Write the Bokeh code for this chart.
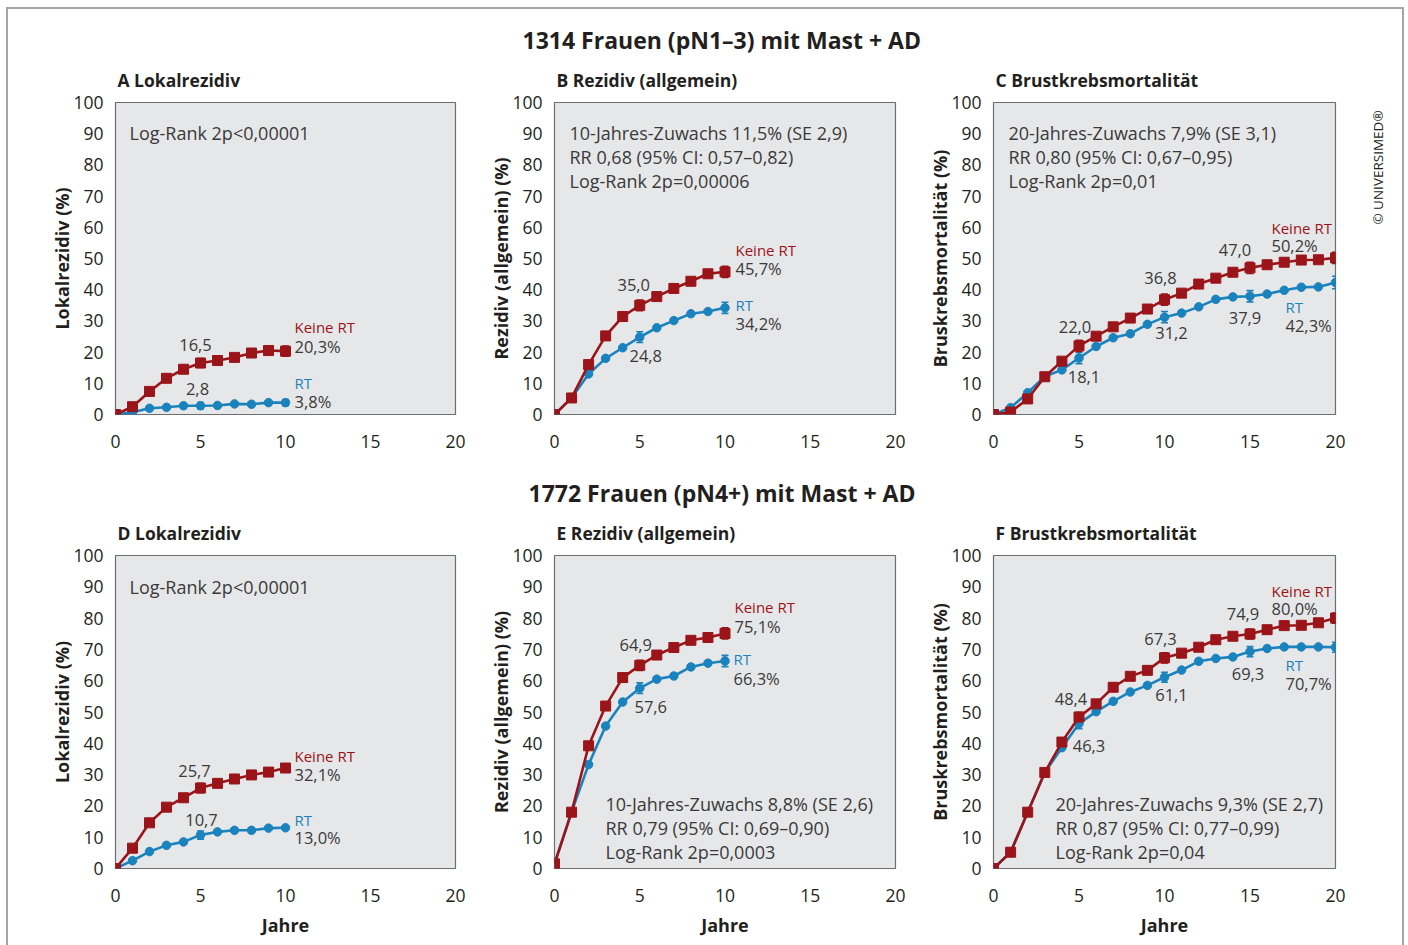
from bokeh.plotting import figure
from bokeh.layouts import row, column
from bokeh.models import (Range1d, FixedTicker, Label, Whisker, ColumnDataSource, TeeHead, Title)
from bokeh.embed import file_html
from bokeh.resources import INLINE
import math

FONT = "Open Sans"
RED = "#9b1419"
BLUE = "#1a82bd"
TXT = "#3a3a3a"
TICK = "#231f20"

# ---------------- data ----------------
years_10 = list(range(0, 11))
years_20 = list(range(0, 21))
x_ticks = [0, 5, 10, 15, 20]
y_ticks = [0, 10, 20, 30, 40, 50, 60, 70, 80, 90, 100]

# A Lokalrezidiv (pN1-3)
a_keine = [0, 2.5, 7.4, 11.6, 14.5, 16.5, 17.3, 18.3, 19.7, 20.5, 20.3]
a_rt = [0, 0.7, 2.0, 2.3, 2.8, 2.8, 2.9, 3.4, 3.3, 3.8, 3.8]
a_err_years = [5, 10]
a_keine_se = [1.4, 1.6]
a_rt_se = [1.0, 1.0]

# B Rezidiv allgemein (pN1-3)
b_keine = [0, 5.3, 16.0, 25.2, 31.4, 35.0, 37.8, 40.4, 42.7, 45.1, 45.7]
b_rt = [0, 5.3, 13.0, 18.0, 21.4, 24.8, 27.8, 30.1, 32.3, 33.0, 34.2]
b_err_years = [5, 10]
b_keine_se = [1.7, 1.8]
b_rt_se = [1.7, 1.8]

# C Brustkrebsmortalitaet (pN1-3)
c_keine = [0, 0.8, 5.0, 12.1, 17.1, 22.0, 25.1, 28.1, 30.9, 33.8, 36.8,
           38.9, 41.8, 43.7, 45.6, 47.0, 48.0, 48.8, 49.5, 49.6, 50.2]
c_rt = [0, 2.2, 7.0, 12.2, 14.3, 18.1, 21.8, 24.6, 25.9, 28.9, 31.2,
        32.5, 34.5, 36.9, 37.7, 37.9, 38.6, 39.8, 40.8, 40.9, 42.3]
c_err_years = [5, 10, 15, 20]
c_keine_se = [1.8, 1.8, 1.8, 1.8]
c_rt_se = [1.8, 1.8, 1.8, 2.0]

# D Lokalrezidiv (pN4+)
d_keine = [0, 6.5, 14.6, 19.6, 22.6, 25.7, 27.2, 28.6, 29.9, 30.8, 32.1]
d_rt = [0, 2.5, 5.4, 7.4, 8.5, 10.7, 11.7, 12.2, 12.2, 12.9, 13.0]
d_err_years = [5]
d_keine_se = [1.5]
d_rt_se = [1.3]

# E Rezidiv allgemein (pN4+)
e_keine = [1.5, 18.0, 39.2, 51.9, 61.0, 64.9, 68.2, 70.6, 72.9, 73.8, 75.1]
e_rt = [1.5, 18.0, 33.2, 45.5, 53.2, 57.6, 60.5, 61.5, 64.4, 65.6, 66.3]
e_err_years = [5, 10]
e_keine_se = [1.6, 1.8]
e_rt_se = [1.7, 1.8]

# F Brustkrebsmortalitaet (pN4+)
f_keine = [0, 5.2, 18.0, 30.7, 40.4, 48.4, 52.6, 57.9, 61.4, 63.3, 67.3,
           68.8, 70.7, 73.1, 74.2, 74.9, 76.3, 77.6, 77.7, 78.5, 80.0]
f_rt = [0, 5.2, 18.0, 30.7, 38.6, 46.3, 50.1, 53.4, 56.4, 58.5, 61.1,
        63.4, 66.2, 67.1, 67.6, 69.3, 70.3, 70.8, 70.8, 70.8, 70.7]
f_err_years = [5, 10, 15, 20]
f_keine_se = [1.5, 1.6, 1.6, 1.6]
f_rt_se = [1.6, 1.6, 1.6, 1.6]

# ---------------- layout specs ----------------
TOP = dict(height=470, top=102, bottom=56, fh=312)
BOT = dict(height=475, top=85, bottom=77, fh=313)
COLS = [dict(left=115, right=20, fw=340), dict(left=79, right=28, fw=341), dict(left=70, right=20, fw=342)]


def lab(p, text, x, y, units="data", size="17px", color=TXT, align="left",
        baseline="middle", bold=False, angle=0.0):
    p.add_layout(Label(x=x, y=y, x_units=units, y_units=units, text=text,
                       text_font=FONT, text_font_size=size, text_color=color,
                       text_align=align, text_baseline=baseline, angle=angle,
                       text_font_style="bold" if bold else "normal"))


def panel(rowspec, colspec, title, ylabel, years, keine, rt, err_years, keine_se, rt_se,
          value_labels, end_labels, stats, stats_xy, xlabel=None):
    fw, fh = colspec["fw"], rowspec["fh"]
    p = figure(width=colspec["left"] + fw + colspec["right"], height=rowspec["height"],
               min_border_left=colspec["left"], min_border_right=colspec["right"],
               min_border_top=rowspec["top"], min_border_bottom=rowspec["bottom"],
               x_range=Range1d(0, 20), y_range=Range1d(0, 100),
               output_backend="svg", toolbar_location=None, title=None)
    p.background_fill_color = "#e6e7e8"
    p.border_fill_alpha = 0
    p.outline_line_color = "#6d6e71"
    p.outline_line_width = 1.2
    p.grid.visible = False
    for ax in (p.xaxis, p.yaxis):
        ax.axis_line_color = None
        ax.major_tick_line_color = None
        ax.minor_tick_line_color = None
        ax.major_tick_out = 0
        ax.minor_tick_out = 0
        ax.major_label_text_font = FONT
        ax.major_label_text_font_size = "17.5px"
        ax.major_label_text_color = TICK
        ax.axis_label_text_font = FONT
        ax.axis_label_text_font_size = "18px"
        ax.axis_label_text_font_style = "bold"
        ax.axis_label_text_color = TICK
    p.xaxis.ticker = FixedTicker(ticks=x_ticks)
    p.yaxis.ticker = FixedTicker(ticks=y_ticks)
    p.xaxis.major_label_standoff = 20
    p.yaxis.major_label_standoff = 12
    p.yaxis.axis_label = ylabel
    p.yaxis.axis_label_standoff = -4
    if xlabel:
        p.xaxis.axis_label = xlabel
        p.xaxis.axis_label_standoff = 8

    # panel title
    p.add_layout(Title(text=title, align="left", offset=2, standoff=21, text_font=FONT,
                       text_font_size="17.5px", text_font_style="bold", text_color=TICK), "above")

    # error bars
    ks = ColumnDataSource(dict(x=err_years,
                               lo=[keine[years.index(y)] - s for y, s in zip(err_years, keine_se)],
                               hi=[keine[years.index(y)] + s for y, s in zip(err_years, keine_se)]))
    rs = ColumnDataSource(dict(x=err_years,
                               lo=[rt[years.index(y)] - s for y, s in zip(err_years, rt_se)],
                               hi=[rt[years.index(y)] + s for y, s in zip(err_years, rt_se)]))

    # RT (blue) below, Keine RT (red) on top
    p.line(years, rt, line_color=BLUE, line_width=2.6)
    p.scatter(years, rt, marker="circle", size=8.5, fill_color=BLUE, line_color=BLUE)
    p.add_layout(Whisker(source=rs, base="x", lower="lo", upper="hi", line_color=BLUE, line_width=1.6,
                         upper_head=TeeHead(size=7, line_color=BLUE, line_width=1.6),
                         lower_head=TeeHead(size=7, line_color=BLUE, line_width=1.6)))
    p.line(years, keine, line_color=RED, line_width=2.6)
    p.scatter(years, keine, marker="square", size=10, fill_color=RED, line_color=RED)
    p.add_layout(Whisker(source=ks, base="x", lower="lo", upper="hi", line_color=RED, line_width=1.6,
                         upper_head=TeeHead(size=7, line_color=RED, line_width=1.6),
                         lower_head=TeeHead(size=7, line_color=RED, line_width=1.6)))

    xs = fw / 20.0
    ys = fh / 100.0
    # value labels at marked years: (text, series, year, dx_px, dy_px)
    for text, ser, yr, dx, dy in value_labels:
        v = (keine if ser == "k" else rt)[years.index(yr)]
        lab(p, text, yr + dx / xs, v - dy / ys, size="16.5px", align="center")
    # end labels: (text, series, dx_px, dy_px, color)
    for text, ser, dx, dy, color in end_labels:
        v = (keine if ser == "k" else rt)[-1]
        lab(p, text, years[-1] + dx / xs, v - dy / ys,
            size="15px" if color != TXT else "16.5px", color=color, align="left")

    # statistics text block (screen units relative to frame)
    sx, sy_top = stats_xy
    for i, line in enumerate(stats):
        lab(p, line, sx, fh - sy_top - 24 * i, units="screen", size="18px", align="left")
    return p


pa = panel(TOP, COLS[0], "A Lokalrezidiv", "Lokalrezidiv (%)", years_10, a_keine, a_rt,
           a_err_years, a_keine_se, a_rt_se,
           [("16,5", "k", 5, -5, -18.5), ("2,8", "r", 5, -3, -17)],
           [("Keine RT", "k", 9, -24, RED), ("20,3%", "k", 9, -5, TXT),
            ("RT", "r", 9, -20, BLUE), ("3,8%", "r", 9, -1, TXT)],
           ["Log-Rank 2p<0,00001"], (14, 30))

pb = panel(TOP, COLS[1], "B Rezidiv (allgemein)", "Rezidiv (allgemein) (%)", years_10, b_keine, b_rt,
           b_err_years, b_keine_se, b_rt_se,
           [("35,0", "k", 5, -6, -20), ("24,8", "r", 5, 6, 19)],
           [("Keine RT", "k", 10.5, -22, RED), ("45,7%", "k", 10.5, -3, TXT),
            ("RT", "r", 10.5, -3, BLUE), ("34,2%", "r", 10.5, 16, TXT)],
           ["10-Jahres-Zuwachs 11,5% (SE 2,9)", "RR 0,68 (95% CI: 0,57–0,82)", "Log-Rank 2p=0,00006"],
           (15, 30))

pc = panel(TOP, COLS[2], "C Brustkrebsmortalität", "Bruskrebsmortalität (%)", years_20, c_keine, c_rt,
           c_err_years, c_keine_se, c_rt_se,
           [("22,0", "k", 5, -4, -19), ("18,1", "r", 5, 5, 19),
            ("36,8", "k", 10, -4, -22), ("31,2", "r", 10, 7, 16),
            ("47,0", "k", 15, -15, -18), ("37,9", "r", 15, -5, 22)],
           [("Keine RT", "k", -64, -30, RED), ("50,2%", "k", -64, -12, TXT),
            ("RT", "r", -50, 24, BLUE), ("42,3%", "r", -50, 43, TXT)],
           ["20-Jahres-Zuwachs 7,9% (SE 3,1)", "RR 0,80 (95% CI: 0,67–0,95)", "Log-Rank 2p=0,01"],
           (15, 30))

pd_ = panel(BOT, COLS[0], "D Lokalrezidiv", "Lokalrezidiv (%)", years_10, d_keine, d_rt,
            d_err_years, d_keine_se, d_rt_se,
            [("25,7", "k", 5, -6, -17), ("10,7", "r", 5, 1, -15)],
            [("Keine RT", "k", 9, -12.5, RED), ("32,1%", "k", 9, 6.5, TXT),
             ("RT", "r", 9, -8, BLUE), ("13,0%", "r", 9, 10, TXT)],
            ["Log-Rank 2p<0,00001"], (14, 31), xlabel="Jahre")

pe = panel(BOT, COLS[1], "E Rezidiv (allgemein)", "Rezidiv (allgemein) (%)", years_10, e_keine, e_rt,
           e_err_years, e_keine_se, e_rt_se,
           [("64,9", "k", 5, -4, -20), ("57,6", "r", 5, 11, 19)],
           [("Keine RT", "k", 9.5, -26, RED), ("75,1%", "k", 9.5, -7, TXT),
            ("RT", "r", 8.5, -1.5, BLUE), ("66,3%", "r", 8.5, 17.5, TXT)],
           ["10-Jahres-Zuwachs 8,8% (SE 2,6)", "RR 0,79 (95% CI: 0,69–0,90)", "Log-Rank 2p=0,0003"],
           (51, 248), xlabel="Jahre")

pf = panel(BOT, COLS[2], "F Brustkrebsmortalität", "Bruskrebsmortalität (%)", years_20, f_keine, f_rt,
           f_err_years, f_keine_se, f_rt_se,
           [("48,4", "k", 5, -8, -18), ("46,3", "r", 5, 10, 22),
            ("67,3", "k", 10, -4, -19), ("61,1", "r", 10, 7, 18),
            ("74,9", "k", 15, -7, -20), ("69,3", "r", 15, -2, 22)],
           [("Keine RT", "k", -64, -27.6, RED), ("80,0%", "k", -64, -9.6, TXT),
            ("RT", "r", -50, 17.3, BLUE), ("70,7%", "r", -50, 36.3, TXT)],
           ["20-Jahres-Zuwachs 9,3% (SE 2,7)", "RR 0,87 (95% CI: 0,77–0,99)", "Log-Rank 2p=0,04"],
           (62, 248), xlabel="Jahre")

# group titles above the middle panels (stacked above their panel titles)
for p, txt, off in ((pb, "1314 Frauen (pN1–3) mit Mast + AD", -32),
                    (pe, "1772 Frauen (pN4+) mit Mast + AD", -26)):
    p.add_layout(Title(text=txt, align="left", offset=off, standoff=0, text_font=FONT,
                       text_font_size="23px", text_font_style="bold", text_color=TICK), "above")

# narrow strip at the right edge carrying the rotated copyright note
pcopy = figure(width=53, height=TOP["height"], x_range=Range1d(0, 1), y_range=Range1d(0, 1),
               x_axis_type=None, y_axis_type=None, output_backend="svg", toolbar_location=None,
               title=None, min_border_left=0, min_border_right=0, min_border_top=0, min_border_bottom=0)
pcopy.grid.visible = False
pcopy.outline_line_color = None
pcopy.background_fill_alpha = 0
pcopy.border_fill_alpha = 0
lab(pcopy, "© UNIVERSIMED®", 22, 247, units="screen", size="13.5px", color=TICK,
    align="center", angle=math.pi / 2)

G = "linear-gradient(#a6a6a6,#a6a6a6)"
layout = column(row(pa, pb, pc, pcopy), row(pd_, pe, pf),
                styles={"background": f"{G} 6px 7px / 2px 940px no-repeat, "
                                      f"{G} 6px 7px / 1398px 2px no-repeat, "
                                      f"{G} 1402px 7px / 2px 940px no-repeat"})

open("out.html", "w").write(file_html(layout, INLINE))
